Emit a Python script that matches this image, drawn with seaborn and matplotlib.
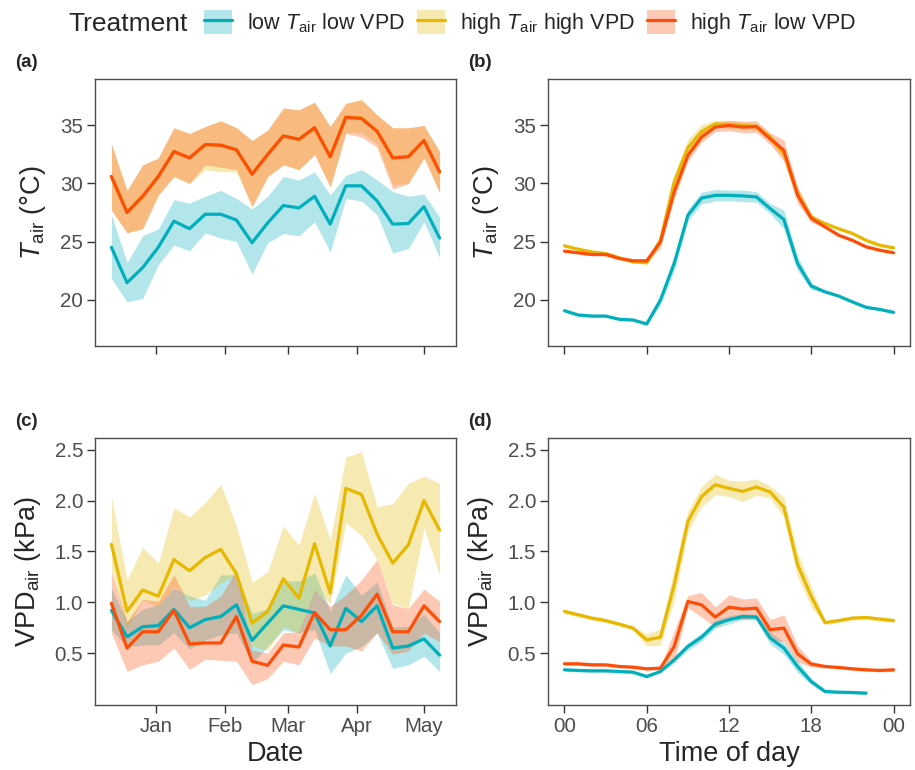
import numpy as np
import pandas as pd
import matplotlib
matplotlib.use("Agg")
import matplotlib.pyplot as plt
from matplotlib.patches import Patch
from matplotlib.lines import Line2D
import seaborn as sns

# ---------------------------------------------------------------- data
treatments = ["low-low", "high-high", "high-low"]
labels = ["low $T_{\\mathrm{air}}$ low VPD",
          "high $T_{\\mathrm{air}}$ high VPD",
          "high $T_{\\mathrm{air}}$ low VPD"]
colors = ["#00AFBB", "#E7B800", "#FC4E07"]

weeks = ["2018-12-12", "2018-12-19", "2018-12-26", "2019-01-02", "2019-01-09",
         "2019-01-16", "2019-01-23", "2019-01-30", "2019-02-06", "2019-02-13",
         "2019-02-20", "2019-02-27", "2019-03-06", "2019-03-13", "2019-03-20",
         "2019-03-27", "2019-04-03", "2019-04-10", "2019-04-17", "2019-04-24",
         "2019-05-01", "2019-05-08"]

# weekly air temperature (mean, lower, upper)
tair_ll = [24.5, 21.45, 22.75, 24.5, 26.75, 26.1, 27.35, 27.35, 26.85, 24.9, 26.6,
           28.1, 27.9, 28.9, 26.5, 29.8, 29.8, 28.5, 26.5, 26.55, 28.0, 25.3]
tair_ll_lo = [21.8, 19.8, 20.1, 23.0, 24.7, 24.2, 25.75, 25.3, 25.0, 22.2, 24.9,
              25.7, 25.5, 26.7, 24.1, 28.7, 28.5, 27.3, 24.0, 24.4, 26.7, 23.6]
tair_ll_hi = [27.3, 23.2, 25.5, 26.1, 28.6, 28.3, 28.9, 29.4, 28.7, 27.8, 28.9,
              30.6, 30.3, 31.0, 29.0, 30.7, 31.2, 30.3, 29.3, 28.9, 29.1, 27.1]

tair_hh = [30.6, 27.5, 28.9, 30.6, 32.75, 32.2, 33.35, 33.3, 32.9, 30.8, 32.5,
           34.1, 33.8, 34.8, 32.3, 35.75, 35.65, 34.5, 32.25, 32.35, 33.7, 31.0]
tair_hh_lo = [27.7, 25.75, 26.1, 29.0, 30.6, 30.0, 31.2, 31.0, 31.0, 28.0, 30.6,
              31.6, 31.2, 32.5, 29.7, 34.4, 34.4, 33.4, 29.9, 30.0, 32.2, 29.2]
tair_hh_hi = [33.4, 29.4, 31.6, 32.2, 34.8, 34.3, 34.9, 35.4, 34.8, 33.7, 34.6,
              36.5, 36.35, 37.0, 34.9, 36.9, 37.25, 35.9, 34.8, 34.8, 35.0, 32.75]

tair_hl = [30.6, 27.5, 28.9, 30.6, 32.75, 32.2, 33.35, 33.3, 32.9, 30.8, 32.5,
           34.1, 33.8, 34.8, 32.3, 35.7, 35.6, 34.5, 32.2, 32.3, 33.7, 31.0]
tair_hl_lo = [27.7, 25.75, 26.1, 29.0, 30.6, 30.0, 31.6, 31.4, 31.2, 28.0, 30.6,
              31.6, 31.2, 32.5, 29.7, 34.3, 34.0, 33.1, 29.5, 30.0, 32.2, 29.2]
tair_hl_hi = [33.4, 29.4, 31.6, 32.2, 34.8, 34.3, 34.9, 35.4, 34.8, 33.7, 34.6,
              36.5, 36.35, 37.0, 34.9, 36.9, 37.2, 35.9, 34.8, 34.8, 35.0, 32.75]

# weekly VPD (mean, lower, upper)
vpd_ll = [0.92, 0.66, 0.76, 0.77, 0.93, 0.75, 0.83, 0.86, 0.975, 0.625, 0.795,
          0.965, 0.93, 0.895, 0.57, 0.94, 0.81, 0.965, 0.55, 0.57, 0.64, 0.48]
vpd_ll_lo = [0.73, 0.565, 0.58, 0.58, 0.70, 0.54, 0.63, 0.68, 0.70, 0.40, 0.565,
             0.73, 0.70, 0.73, 0.30, 0.50, 0.565, 0.70, 0.35, 0.385, 0.47, 0.32]
vpd_ll_hi = [1.14, 0.81, 0.93, 0.975, 1.14, 1.06, 1.02, 1.27, 1.27, 0.89, 0.94,
             1.21, 1.21, 1.29, 0.91, 1.27, 1.07, 1.20, 0.76, 0.76, 0.88, 0.70]

vpd_hh = [1.57, 0.91, 1.12, 1.06, 1.42, 1.31, 1.44, 1.52, 1.28, 0.795, 0.91,
          1.23, 1.04, 1.575, 1.09, 2.12, 2.06, 1.67, 1.385, 1.565, 2.0, 1.71]
vpd_hh_lo = [1.32, 0.75, 1.02, 0.96, 1.16, 1.02, 1.07, 1.19, 1.27, 0.57, 0.53,
             0.76, 0.70, 1.11, 0.99, 1.78, 1.66, 1.42, 0.99, 0.94, 1.73, 1.27]
vpd_hh_hi = [2.04, 1.22, 1.54, 1.385, 1.93, 1.84, 1.98, 2.16, 1.75, 1.20, 1.30,
             1.75, 1.56, 2.07, 1.61, 2.43, 2.48, 1.94, 1.97, 2.17, 2.24, 2.17]

vpd_hl = [0.99, 0.55, 0.71, 0.71, 0.92, 0.59, 0.60, 0.60, 0.86, 0.42, 0.38,
          0.58, 0.56, 0.90, 0.73, 0.73, 0.87, 1.08, 0.71, 0.71, 0.965, 0.81]
vpd_hl_lo = [0.70, 0.32, 0.385, 0.42, 0.55, 0.34, 0.44, 0.43, 0.42, 0.19, 0.25,
             0.42, 0.385, 0.65, 0.57, 0.57, 0.52, 0.70, 0.49, 0.52, 0.70, 0.61]
vpd_hl_hi = [1.30, 0.81, 1.03, 1.01, 1.27, 0.96, 0.96, 1.06, 1.32, 0.53, 0.50,
             0.70, 0.71, 1.12, 0.96, 1.07, 1.22, 1.42, 0.975, 0.94, 1.13, 1.01]

# hourly diurnal course (mean and half-width of the band)
hours = list(range(25))

dtair_ll = [19.04, 18.67, 18.58, 18.58, 18.3, 18.24, 17.9, 19.96, 23.1, 27.26, 28.75,
            28.98, 28.98, 28.93, 28.84, 27.84, 26.9, 23.1, 21.16, 20.67, 20.3, 19.8,
            19.33, 19.15, 18.9]
dtair_ll_sd = [0.1, 0.1, 0.1, 0.1, 0.1, 0.1, 0.1, 0.4, 0.6, 0.5, 0.5, 0.5, 0.45,
               0.5, 0.45, 0.45, 0.8, 0.6, 0.3, 0.1, 0.1, 0.1, 0.1, 0.1, 0.1]
dtair_hh = [24.63, 24.34, 24.1, 23.97, 23.6, 23.25, 23.17, 25.1, 30.13, 33.08, 34.48,
            35.14, 35.08, 35.0, 34.9, 33.99, 32.56, 29.13, 27.1, 26.55, 26.1, 25.7,
            25.1, 24.68, 24.46]
dtair_hh_sd = [0.12, 0.12, 0.12, 0.12, 0.12, 0.12, 0.12, 0.4, 0.6, 0.7, 0.6, 0.3, 0.3,
               0.3, 0.3, 0.3, 0.4, 0.5, 0.3, 0.12, 0.12, 0.12, 0.12, 0.12, 0.12]
dtair_hl = [24.17, 24.03, 23.88, 23.88, 23.54, 23.34, 23.34, 24.97, 29.27, 32.42, 34.0,
            34.86, 35.0, 34.86, 34.9, 33.85, 32.85, 29.0, 27.0, 26.26, 25.54, 25.1,
            24.54, 24.25, 24.03]
dtair_hl_sd = [0.1, 0.1, 0.1, 0.1, 0.1, 0.1, 0.1, 0.5, 0.6, 0.5, 0.45, 0.4, 0.45,
               0.5, 0.5, 0.5, 0.9, 0.7, 0.35, 0.1, 0.1, 0.1, 0.1, 0.1, 0.1]

dvpd_ll = [0.336, 0.33, 0.326, 0.326, 0.32, 0.313, 0.27, 0.32, 0.434, 0.565, 0.657,
           0.785, 0.828, 0.86, 0.854, 0.648, 0.55, 0.369, 0.22, 0.123, 0.116, 0.113,
           0.107, np.nan, np.nan]
dvpd_ll_sd = [0.015, 0.015, 0.015, 0.015, 0.015, 0.015, 0.015, 0.015, 0.03, 0.04, 0.04,
              0.04, 0.04, 0.03, 0.03, 0.06, 0.06, 0.06, 0.03, 0.015, 0.015, 0.015,
              0.015, np.nan, np.nan]
dvpd_hh = [0.91, 0.877, 0.844, 0.82, 0.785, 0.746, 0.63, 0.657, 1.17, 1.795, 2.04,
           2.156, 2.12, 2.09, 2.133, 2.084, 1.936, 1.37, 1.057, 0.80, 0.82, 0.844,
           0.85, 0.835, 0.82]
dvpd_hh_sd = [0.02, 0.02, 0.02, 0.02, 0.02, 0.02, 0.06, 0.08, 0.15, 0.1, 0.1, 0.1,
              0.08, 0.1, 0.08, 0.06, 0.1, 0.12, 0.1, 0.02, 0.02, 0.02, 0.02, 0.02, 0.02]
dvpd_hl = [0.395, 0.395, 0.385, 0.385, 0.369, 0.362, 0.346, 0.352, 0.565, 1.008, 0.975,
           0.854, 0.952, 0.933, 0.942, 0.73, 0.746, 0.493, 0.392, 0.369, 0.359, 0.346,
           0.336, 0.33, 0.336]
dvpd_hl_sd = [0.015, 0.015, 0.015, 0.015, 0.015, 0.015, 0.015, 0.015, 0.15, 0.06, 0.12,
              0.1, 0.12, 0.1, 0.1, 0.1, 0.13, 0.08, 0.03, 0.015, 0.015, 0.015, 0.015,
              0.015, 0.015]

# ---------------------------------------------------------------- style
sns.set_style("ticks")
plt.rcParams["font.family"] = ["Liberation Sans", "DejaVu Sans"]
plt.rcParams["mathtext.fontset"] = "custom"
plt.rcParams["mathtext.rm"] = "Liberation Sans"
plt.rcParams["mathtext.it"] = "Liberation Sans:italic"
plt.rcParams["mathtext.bf"] = "Liberation Sans:bold"

TICK_FS = 14.8
TITLE_FS = 19.5
LEG_FS = 15.5
LW = 2.3
FRAME = "#4D4D4D"

W, H = 915, 770
fig = plt.figure(figsize=(W / 100, H / 100), dpi=100)


def box(l, t, r, b):
    return [l / W, 1 - b / H, (r - l) / W, (b - t) / H]


ax_a = fig.add_axes(box(95, 79, 456, 346))
ax_b = fig.add_axes(box(548, 79, 910, 346))
ax_c = fig.add_axes(box(95, 438, 456, 705))
ax_d = fig.add_axes(box(548, 438, 910, 705))

dates = pd.to_datetime(weeks)


def draw(ax, x, series):
    rows = []
    for (mean, lo, hi), col in zip(series, colors):
        ax.fill_between(x, lo, hi, color=col, alpha=0.3, lw=0)
    for name, (mean, lo, hi) in zip(treatments, series):
        rows.append(pd.DataFrame({"x": x, "value": mean, "treatment": name}))
    df = pd.concat(rows, ignore_index=True).dropna()
    sns.lineplot(data=df, x="x", y="value", hue="treatment", hue_order=treatments,
                 palette=colors, estimator=None, lw=LW, legend=False, ax=ax)


def band(mean, sd):
    m = np.asarray(mean, float)
    s = np.asarray(sd, float)
    return (m, m - s, m + s)


draw(ax_a, dates, [(tair_ll, tair_ll_lo, tair_ll_hi),
                   (tair_hh, tair_hh_lo, tair_hh_hi),
                   (tair_hl, tair_hl_lo, tair_hl_hi)])
draw(ax_c, dates, [(vpd_ll, vpd_ll_lo, vpd_ll_hi),
                   (vpd_hh, vpd_hh_lo, vpd_hh_hi),
                   (vpd_hl, vpd_hl_lo, vpd_hl_hi)])
draw(ax_b, hours, [band(dtair_ll, dtair_ll_sd), band(dtair_hh, dtair_hh_sd),
                   band(dtair_hl, dtair_hl_sd)])
draw(ax_d, hours, [band(dvpd_ll, dvpd_ll_sd), band(dvpd_hh, dvpd_hh_sd),
                   band(dvpd_hl, dvpd_hl_sd)])

# ---------------------------------------------------------------- axes
span = dates[-1] - dates[0]
date_lim = (dates[0] - 0.05 * span, dates[-1] + 0.05 * span)
month_ticks = pd.to_datetime(["2019-01-01", "2019-02-01", "2019-03-01",
                              "2019-04-01", "2019-05-01"])
month_labels = ["Jan", "Feb", "Mar", "Apr", "May"]
hour_ticks = [0, 6, 12, 18, 24]
hour_labels = ["00", "06", "12", "18", "00"]

for ax in (ax_a, ax_c):
    ax.set_xlim(date_lim)
    ax.set_xticks(month_ticks)
for ax in (ax_b, ax_d):
    ax.set_xlim(-1.2, 25.2)
    ax.set_xticks(hour_ticks)
ax_a.set_xticklabels([])
ax_b.set_xticklabels([])
ax_c.set_xticklabels(month_labels)
ax_d.set_xticklabels(hour_labels)

for ax in (ax_a, ax_b):
    ax.set_ylim(16.0, 39.0)
    ax.set_yticks([20, 25, 30, 35])
    ax.set_ylabel("$T_{\\mathrm{air}}$ (°C)", fontsize=TITLE_FS, labelpad=9)
for ax in (ax_c, ax_d):
    ax.set_ylim(-0.01, 2.615)
    ax.set_yticks([0.5, 1.0, 1.5, 2.0, 2.5])
    ax.set_yticklabels(["0.5", "1.0", "1.5", "2.0", "2.5"])
    ax.set_ylabel("VPD$_{\\mathrm{air}}$ (kPa)", fontsize=TITLE_FS, labelpad=8)

for ax in (ax_a, ax_b):
    ax.set_xlabel("")
ax_c.set_xlabel("Date", fontsize=TITLE_FS, labelpad=4)
ax_d.set_xlabel("Time of day", fontsize=TITLE_FS, labelpad=4)

for ax in (ax_a, ax_b, ax_c, ax_d):
    ax.tick_params(direction="out", length=5.5, width=1.0, color="#333333",
                   labelcolor="#4D4D4D", labelsize=TICK_FS, pad=3)
    for sp in ax.spines.values():
        sp.set_visible(True)
        sp.set_color(FRAME)
        sp.set_linewidth(1.0)
    ax.grid(False)

# ---------------------------------------------------------------- panel tags
for tag, x, y in [("(a)", 15, 62.5), ("(b)", 468, 62.5),
                  ("(c)", 15, 421.5), ("(d)", 468, 421.5)]:
    fig.text(x / W, 1 - y / H, tag, fontsize=13.5, fontweight="bold",
             ha="left", va="center")

# ---------------------------------------------------------------- legend
fig.text(68 / W, 1 - 24 / H, "Treatment", fontsize=19, ha="left", va="center")
leg_px = LEG_FS * 100 / 72
handles = [(Patch(facecolor=c, alpha=0.3, edgecolor="none"),
            Line2D([], [], color=c, lw=LW)) for c in colors]
fig.legend(handles, labels, loc="center left", bbox_to_anchor=(204 / W, 1 - 23 / H),
           ncol=3, frameon=False, fontsize=LEG_FS,
           handlelength=28 / leg_px, handleheight=28 / leg_px,
           handletextpad=15 / leg_px, columnspacing=12 / leg_px,
           borderpad=0, borderaxespad=0)

fig.savefig("out.png", dpi=100)
